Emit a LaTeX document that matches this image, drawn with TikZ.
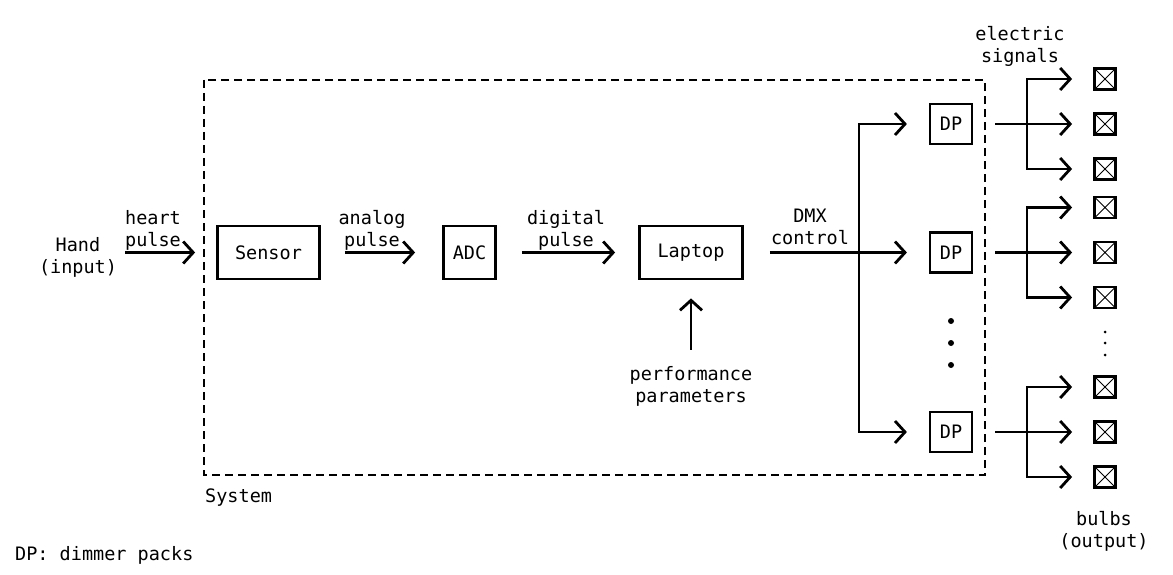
\documentclass[tikz,border=0pt]{standalone}
\usepackage{fontspec}
\setmonofont{DejaVu Sans Mono}
\usetikzlibrary{arrows.meta}

\begin{document}
\begin{tikzpicture}[x=1pt, y=-1pt,
		every node/.style={font=\ttfamily\fontsize{18.5}{22}\selectfont},
		txt/.style={inner sep=0pt, align=center, text depth=4pt, anchor=south},
		blk/.style={draw, line width=2.8pt, inner sep=0pt, minimum height=53pt},
		dp/.style={draw, line width=2.2pt, inner sep=0pt, minimum width=42pt, minimum height=40pt},
		bulb/.style={draw, line width=2.8pt, inner sep=0pt, minimum size=21pt,
			path picture={\draw[line width=1pt] (path picture bounding box.north west) -- (path picture bounding box.south east)
				(path picture bounding box.north east) -- (path picture bounding box.south west);}},
		arr/.style={line width=2.8pt, -{Straight Barb[length=10pt,width=22pt]}},
		wire/.style={line width=2.8pt}]
		\useasboundingbox (0,0) rectangle (1173,575);
		\draw[line width=1.3pt, dash pattern=on 8pt off 5pt] (204,80) rectangle (985,475);
		\node[anchor=base west, inner sep=0pt] (sys) at (205,502) {System};
		\node[anchor=base west, inner sep=0pt] (key) at (15,560) {DP: dimmer packs};
		\node[txt] (hand) at (78,278) {Hand\\(input)};
		\node[blk, minimum width=102pt] (sensor) at (268.5,252.5) {Sensor};
		\node[blk, minimum width=52pt] (adc) at (469.5,252.5) {ADC};
		\node[blk, minimum width=103pt] (laptop) at (691,252.5) {Laptop};
		\node[txt] (perf) at (691,407) {performance\\parameters};
		\node[txt] (heart) at (153,251) {heart\\pulse};
		\node[txt] (analog) at (372,251) {analog\\pulse};
		\node[txt] (digital) at (566,251) {digital\\pulse};
		\node[txt] (dmx) at (810,249) {DMX\\control};
		\node[txt] (sig) at (1020,67) {electric\\signals};
		\node[txt] (out) at (1104,552) {bulbs\\(output)};
		\draw[arr, shorten <=8pt, shorten >=21pt] (hand.east |- sensor.west) -- (sensor.west);
		\draw[arr, shorten <=24pt, shorten >=27pt] (sensor.east) -- (adc.west);
		\draw[arr, shorten <=25pt, shorten >=23pt] (adc.east) -- (laptop.west);
		\draw[arr, shorten <=17pt, shorten >=18pt] (perf.north) -- (laptop.south);
		\node[dp] (dp1) at (951,124) {DP};
		\node[dp] (dp2) at (951,252.5) {DP};
		\node[dp] (dp3) at (951,432) {DP};
		\coordinate (fork) at (859,252.5);
		\draw[wire, shorten <=26pt] (laptop.east) -- (fork);
		\foreach \d in {dp1,dp2,dp3}
			\draw[arr, shorten >=22pt] (fork) |- (\d.west);
		\foreach \y in {321,343,365}
			\fill (951,\y) circle (3pt);
		\foreach \d/\y in {dp1/124, dp2/252.5, dp3/432} {
			\coordinate (f\d) at (1027,\y);
			\draw[wire, shorten <=22pt] (\d.east) -- (f\d);
			\foreach \k/\o in {a/-45, b/0, c/45} {
				\node[bulb] (\d\k) at (1105,\y+\o) {};
				\draw[arr, shorten >=21pt] (f\d) |- (\d\k.west);
			}
		}
		\foreach \y in {332,343,355}
			\fill (1105,\y) circle (1.5pt);
\end{tikzpicture}
\end{document}
